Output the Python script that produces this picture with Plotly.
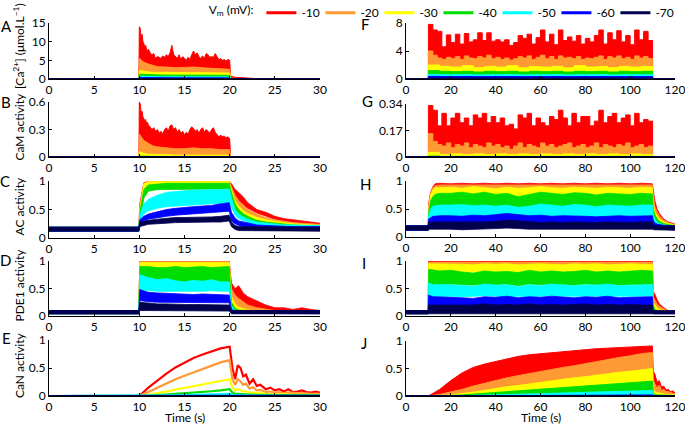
import plotly.graph_objects as go

FONT = 'Lato'
VOLTS = ['-10', '-20', '-30', '-40', '-50', '-60', '-70']
COLORS = ['#FF0000', '#FF9933', '#FFFF00', '#00DD00', '#00FFFF', '#0000FF', '#00004D']

# ---------------- Panel A / B (0-30 s, filled traces) ----------------
A_T = [0, 9.95, 10.0, 10.1, 10.2, 10.3, 10.4, 10.5, 10.6, 10.7, 10.8, 10.9,
       11.0, 11.2, 11.4, 11.6, 11.8, 12.0, 12.2, 12.4, 12.6, 12.8,
       13.0, 13.2, 13.4, 13.6, 13.8, 14.0, 14.2, 14.4, 14.6, 14.8,
       15.0, 15.2, 15.4, 15.6, 15.8, 16.0, 16.2, 16.4, 16.6, 16.8,
       17.0, 17.2, 17.4, 17.6, 17.8, 18.0, 18.2, 18.4, 18.6, 18.8,
       19.0, 19.2, 19.4, 19.6, 19.8, 20.0,
       20.1, 20.5, 21, 22, 23, 25, 30]
A_m10 = [0, 0, 14, 13.5, 11, 12, 10, 9.5, 8.5, 9, 8, 7.5,
         8, 7, 6.5, 6.8, 5.5, 6, 5.8, 5.5, 6.2, 5.8,
         6.5, 6, 7, 9, 6.5, 6, 5.5, 6.5, 5.2, 6,
         5.5, 5, 5.8, 5.2, 6.5, 7.5, 6.5, 7, 6, 5.5,
         6.2, 5.5, 6.8, 6.5, 5.8, 6, 5.8, 6.8, 6, 5.2,
         5.5, 5, 5.2, 4.8, 5.2, 5,
         0.8, 0.5, 0.4, 0.2, 0.1, 0.05, 0.05]
A_T2 = [0, 9.95, 10, 10.5, 11, 11.5, 12, 13, 14, 15, 16, 17, 18, 19, 20, 20.1, 20.5, 21, 30]
A_m20 = [0, 0, 5.5, 4.5, 4, 3.6, 3.3, 3.2, 3.0, 3.1, 3.2, 3.0, 2.9, 2.8, 2.6, 0.3, 0.2, 0.1, 0]
A_m30 = [0, 0, 2.3, 2.0, 1.9, 1.8, 1.8, 1.7, 1.7, 1.7, 1.7, 1.7, 1.6, 1.6, 1.6, 0.1, 0.05, 0, 0]
A_m40 = [0, 0, 1.3, 1.2, 1.1, 1.1, 1.1, 1.05, 1.05, 1.05, 1.0, 1.0, 1.0, 1.0, 1.0, 0.05, 0, 0, 0]
A_m50 = [0, 0, 0.7, 0.65, 0.62, 0.6, 0.6, 0.58, 0.58, 0.57, 0.57, 0.56, 0.56, 0.55, 0.55, 0.02, 0, 0, 0]
A_m60 = [0, 0, 0.38, 0.35, 0.34, 0.33, 0.33, 0.32, 0.32, 0.32, 0.31, 0.31, 0.31, 0.3, 0.3, 0.01, 0, 0, 0]
A_m70 = [0, 0, 0.1, 0.09, 0.09, 0.08, 0.08, 0.08, 0.08, 0.08, 0.08, 0.08, 0.08, 0.08, 0.08, 0, 0, 0, 0]

B_m10 = [0, 0, 0.6, 0.58, 0.48, 0.5, 0.44, 0.42, 0.38, 0.41, 0.36, 0.38,
         0.35, 0.33, 0.3, 0.32, 0.28, 0.3, 0.26, 0.28, 0.25, 0.3,
         0.32, 0.28, 0.34, 0.35, 0.3, 0.32, 0.27, 0.3, 0.26, 0.28,
         0.24, 0.27, 0.25, 0.3, 0.33, 0.31, 0.28, 0.3, 0.26, 0.3,
         0.32, 0.27, 0.3, 0.28, 0.26, 0.3, 0.32, 0.27, 0.25, 0.22,
         0.24, 0.22, 0.23, 0.21, 0.22, 0.2,
         0, 0, 0, 0, 0, 0, 0]
B_m20 = [0, 0, 0.25, 0.18, 0.15, 0.12, 0.11, 0.1, 0.09, 0.09, 0.1, 0.09, 0.09, 0.08, 0.08, 0, 0, 0, 0]
B_m30 = [0, 0, 0.06, 0.04, 0.03, 0.03, 0.025, 0.025, 0.02, 0.02, 0.02, 0.02, 0.02, 0.02, 0.02, 0, 0, 0, 0]
B_m40 = [0, 0, 0.01, 0.008, 0.007, 0.006, 0.006, 0.006, 0.006, 0.006, 0.006, 0.006, 0.006, 0.006, 0.006, 0, 0, 0, 0]
B_m50 = [0, 0, 0.003, 0.002, 0.002, 0.002, 0.002, 0.002, 0.002, 0.002, 0.002, 0.002, 0.002, 0.002, 0.002, 0, 0, 0, 0]
B_m60 = [0, 0, 0.001, 0.001, 0.001, 0.001, 0.001, 0.001, 0.001, 0.001, 0.001, 0.001, 0.001, 0.001, 0.001, 0, 0, 0, 0]
B_m70 = [0, 0, 0, 0, 0, 0, 0, 0, 0, 0, 0, 0, 0, 0, 0, 0, 0, 0, 0]

# ---------------- Panel C / D (0-30 s, noisy bands: low / high envelopes) ----------------
C_T = [0, 9.95,
       10.05, 10.5, 11, 12, 13, 14, 15, 16, 17, 18, 19, 19.95,
       20.2, 20.6, 21, 21.5, 22, 23, 24, 25, 26, 27, 28, 29, 30]
C_m10_hi = [0.19, 0.19, 0.6, 0.97, 0.99, 0.99, 0.99, 0.99, 0.99, 0.99, 0.99, 0.99, 0.99, 0.99,
            0.95, 0.85, 0.8, 0.72, 0.62, 0.5, 0.45, 0.38, 0.34, 0.32, 0.3, 0.28, 0.26]
C_m10_lo = [0.12, 0.12, 0.3, 0.85, 0.93, 0.93, 0.94, 0.93, 0.93, 0.94, 0.93, 0.93, 0.94, 0.93,
            0.85, 0.7, 0.65, 0.58, 0.52, 0.44, 0.38, 0.33, 0.3, 0.27, 0.25, 0.24, 0.22]
C_m20_hi = [0.19, 0.19, 0.55, 0.96, 0.98, 0.98, 0.98, 0.98, 0.98, 0.98, 0.98, 0.98, 0.98, 0.98,
            0.9, 0.75, 0.66, 0.58, 0.5, 0.42, 0.36, 0.32, 0.29, 0.27, 0.26, 0.25, 0.24]
C_m20_lo = [0.12, 0.12, 0.3, 0.82, 0.92, 0.92, 0.92, 0.92, 0.92, 0.92, 0.92, 0.92, 0.92, 0.92,
            0.8, 0.62, 0.55, 0.48, 0.43, 0.37, 0.32, 0.28, 0.26, 0.24, 0.23, 0.22, 0.21]
C_m30_hi = [0.19, 0.19, 0.5, 0.95, 0.99, 0.99, 0.99, 0.99, 0.99, 0.99, 0.99, 0.99, 0.99, 0.99,
            0.85, 0.65, 0.56, 0.48, 0.43, 0.36, 0.32, 0.29, 0.27, 0.25, 0.24, 0.23, 0.22]
C_m30_lo = [0.12, 0.12, 0.3, 0.8, 0.92, 0.92, 0.92, 0.92, 0.92, 0.92, 0.92, 0.92, 0.92, 0.92,
            0.75, 0.55, 0.47, 0.41, 0.37, 0.31, 0.28, 0.25, 0.23, 0.22, 0.21, 0.2, 0.19]
C_m40_hi = [0.19, 0.19, 0.45, 0.85, 0.93, 0.95, 0.96, 0.96, 0.96, 0.96, 0.96, 0.96, 0.96, 0.96,
            0.8, 0.6, 0.5, 0.43, 0.38, 0.31, 0.28, 0.26, 0.24, 0.23, 0.22, 0.22, 0.21]
C_m40_lo = [0.12, 0.12, 0.3, 0.7, 0.82, 0.85, 0.86, 0.86, 0.86, 0.86, 0.86, 0.86, 0.86, 0.86,
            0.65, 0.5, 0.42, 0.36, 0.32, 0.27, 0.24, 0.22, 0.21, 0.2, 0.19, 0.19, 0.18]
C_m50_hi = [0.19, 0.19, 0.4, 0.6, 0.68, 0.75, 0.8, 0.82, 0.83, 0.84, 0.84, 0.85, 0.85, 0.86,
            0.7, 0.5, 0.42, 0.37, 0.33, 0.28, 0.26, 0.24, 0.23, 0.23, 0.22, 0.22, 0.22]
C_m50_lo = [0.12, 0.12, 0.3, 0.42, 0.48, 0.52, 0.55, 0.57, 0.58, 0.59, 0.6, 0.6, 0.61, 0.62,
            0.55, 0.4, 0.34, 0.3, 0.27, 0.23, 0.21, 0.2, 0.19, 0.18, 0.18, 0.17, 0.17]
C_m60_hi = [0.19, 0.19, 0.32, 0.38, 0.42, 0.46, 0.5, 0.52, 0.54, 0.55, 0.56, 0.57, 0.6, 0.62,
            0.45, 0.35, 0.3, 0.28, 0.26, 0.23, 0.22, 0.21, 0.21, 0.2, 0.2, 0.2, 0.2]
C_m60_lo = [0.12, 0.12, 0.25, 0.3, 0.33, 0.36, 0.38, 0.4, 0.42, 0.43, 0.44, 0.45, 0.46, 0.47,
            0.3, 0.25, 0.22, 0.2, 0.19, 0.17, 0.16, 0.16, 0.15, 0.15, 0.15, 0.14, 0.14]
C_m70_hi = [0.19, 0.19, 0.28, 0.3, 0.31, 0.33, 0.35, 0.36, 0.36, 0.36, 0.37, 0.37, 0.38, 0.4,
            0.28, 0.22, 0.2, 0.2, 0.2, 0.19, 0.19, 0.19, 0.19, 0.19, 0.19, 0.19, 0.19]
C_m70_lo = [0.12, 0.12, 0.2, 0.22, 0.24, 0.25, 0.26, 0.27, 0.27, 0.27, 0.28, 0.28, 0.28, 0.3,
            0.2, 0.15, 0.13, 0.13, 0.12, 0.12, 0.12, 0.12, 0.12, 0.12, 0.12, 0.12, 0.12]

D_m10_hi = [0.1, 0.1, 1, 1, 1, 1, 1, 1, 1, 1, 1, 1, 1, 1,
            0.6, 0.5, 0.55, 0.42, 0.35, 0.28, 0.2, 0.15, 0.15, 0.12, 0.15, 0.12, 0.1]
D_m10_lo = [0.04, 0.04, 0.9, 0.95, 0.95, 0.95, 0.95, 0.95, 0.95, 0.95, 0.95, 0.95, 0.95, 0.95,
            0.3, 0.2, 0.15, 0.1, 0.08, 0.06, 0.05, 0.05, 0.05, 0.05, 0.05, 0.05, 0.05]
D_m20_hi = [0.1, 0.1, 0.99, 0.99, 0.99, 0.99, 0.99, 0.99, 0.99, 0.99, 0.99, 0.99, 0.99, 0.99,
            0.5, 0.38, 0.32, 0.26, 0.2, 0.15, 0.12, 0.1, 0.1, 0.09, 0.09, 0.09, 0.09]
D_m20_lo = [0.04, 0.04, 0.88, 0.92, 0.92, 0.92, 0.92, 0.92, 0.92, 0.92, 0.92, 0.92, 0.92, 0.92,
            0.2, 0.12, 0.1, 0.08, 0.06, 0.05, 0.05, 0.05, 0.05, 0.05, 0.05, 0.05, 0.05]
D_m30_hi = [0.1, 0.1, 0.97, 0.97, 0.97, 0.97, 0.97, 0.97, 0.97, 0.97, 0.97, 0.97, 0.97, 0.97,
            0.35, 0.22, 0.16, 0.13, 0.11, 0.09, 0.09, 0.09, 0.09, 0.09, 0.09, 0.09, 0.09]
D_m30_lo = [0.04, 0.04, 0.8, 0.83, 0.83, 0.83, 0.83, 0.83, 0.83, 0.83, 0.83, 0.83, 0.83, 0.83,
            0.15, 0.08, 0.06, 0.05, 0.05, 0.05, 0.05, 0.05, 0.05, 0.05, 0.05, 0.05, 0.05]
D_m40_hi = [0.1, 0.1, 0.9, 0.9, 0.9, 0.88, 0.88, 0.9, 0.88, 0.89, 0.9, 0.88, 0.89, 0.9,
            0.25, 0.14, 0.11, 0.1, 0.1, 0.1, 0.1, 0.1, 0.1, 0.1, 0.1, 0.1, 0.1]
D_m40_lo = [0.04, 0.04, 0.6, 0.62, 0.6, 0.6, 0.58, 0.6, 0.6, 0.6, 0.62, 0.6, 0.6, 0.6,
            0.1, 0.06, 0.05, 0.05, 0.05, 0.05, 0.05, 0.05, 0.05, 0.05, 0.05, 0.05, 0.05]
D_m50_hi = [0.1, 0.1, 0.75, 0.72, 0.7, 0.66, 0.68, 0.64, 0.62, 0.65, 0.63, 0.66, 0.62, 0.62,
            0.18, 0.1, 0.1, 0.1, 0.1, 0.1, 0.1, 0.1, 0.1, 0.1, 0.1, 0.1, 0.1]
D_m50_lo = [0.04, 0.04, 0.48, 0.47, 0.46, 0.45, 0.45, 0.44, 0.44, 0.45, 0.45, 0.46, 0.45, 0.45,
            0.08, 0.05, 0.05, 0.05, 0.05, 0.05, 0.05, 0.05, 0.05, 0.05, 0.05, 0.05, 0.05]
D_m60_hi = [0.1, 0.1, 0.48, 0.45, 0.43, 0.42, 0.41, 0.4, 0.4, 0.39, 0.4, 0.39, 0.38, 0.38,
            0.12, 0.1, 0.1, 0.1, 0.1, 0.1, 0.1, 0.1, 0.1, 0.1, 0.1, 0.1, 0.1]
D_m60_lo = [0.04, 0.04, 0.28, 0.27, 0.26, 0.25, 0.25, 0.25, 0.24, 0.24, 0.24, 0.24, 0.24, 0.24,
            0.05, 0.04, 0.04, 0.04, 0.04, 0.04, 0.04, 0.04, 0.04, 0.04, 0.04, 0.04, 0.04]
D_m70_hi = [0.1, 0.1, 0.25, 0.24, 0.23, 0.22, 0.22, 0.21, 0.21, 0.21, 0.21, 0.21, 0.2, 0.2,
            0.1, 0.1, 0.1, 0.1, 0.1, 0.1, 0.1, 0.1, 0.1, 0.1, 0.1, 0.1, 0.1]
D_m70_lo = [0.04, 0.04, 0.1, 0.1, 0.1, 0.09, 0.09, 0.09, 0.09, 0.09, 0.09, 0.09, 0.09, 0.09,
            0.04, 0.04, 0.04, 0.04, 0.04, 0.04, 0.04, 0.04, 0.04, 0.04, 0.04, 0.04, 0.04]

# ---------------- Panel E (0-30 s, lines) ----------------
E_T = [0, 10, 11, 12, 13, 14, 15, 16, 17, 18, 19, 20,
       20.3, 20.6, 20.9, 21.2, 21.5, 21.8, 22.2, 22.6, 23, 23.4,
       24, 24.5, 25, 25.5, 26, 26.5, 27, 27.5, 28, 28.5, 29, 29.5, 30]
E_m10 = [0, 0, 0.15, 0.28, 0.4, 0.51, 0.6, 0.68, 0.74, 0.8, 0.85, 0.88,
         0.5, 0.3, 0.55, 0.5, 0.35, 0.38, 0.22, 0.3, 0.18, 0.2,
         0.12, 0.15, 0.1, 0.12, 0.08, 0.12, 0.07, 0.08, 0.1, 0.07, 0.06, 0.08, 0.06]
E_m20 = [0, 0, 0.07, 0.15, 0.23, 0.3, 0.36, 0.42, 0.48, 0.54, 0.6, 0.64,
         0.3, 0.2, 0.3, 0.26, 0.2, 0.22, 0.13, 0.16, 0.1, 0.11,
         0.07, 0.08, 0.06, 0.07, 0.05, 0.06, 0.05, 0.05, 0.05, 0.04, 0.04, 0.04, 0.04]
E_m30 = [0, 0, 0.02, 0.05, 0.08, 0.11, 0.14, 0.17, 0.2, 0.23, 0.27, 0.3,
         0.15, 0.1, 0.12, 0.1, 0.08, 0.08, 0.06, 0.06, 0.05, 0.05,
         0.04, 0.04, 0.03, 0.03, 0.03, 0.03, 0.02, 0.02, 0.02, 0.02, 0.02, 0.02, 0.02]
E_m40 = [0, 0, 0.005, 0.015, 0.025, 0.035, 0.045, 0.055, 0.07, 0.085, 0.1, 0.12,
         0.06, 0.04, 0.04, 0.035, 0.03, 0.03, 0.025, 0.02, 0.02, 0.02,
         0.015, 0.015, 0.01, 0.01, 0.01, 0.01, 0.01, 0.01, 0.01, 0.01, 0.01, 0.01, 0.01]
E_m50 = [0, 0, 0.002, 0.005, 0.008, 0.012, 0.015, 0.02, 0.025, 0.03, 0.035, 0.04,
         0.02, 0.015, 0.015, 0.012, 0.01, 0.01, 0.008, 0.008, 0.006, 0.006,
         0.005, 0.005, 0.004, 0.004, 0.004, 0.003, 0.003, 0.003, 0.003, 0.003, 0.003, 0.003, 0.003]
E_m60 = [0, 0, 0, 0.001, 0.002, 0.003, 0.004, 0.005, 0.006, 0.007, 0.008, 0.01,
         0.005, 0.004, 0.004, 0.003, 0.003, 0.002, 0.002, 0.002, 0.002, 0.001,
         0.001, 0.001, 0.001, 0.001, 0.001, 0.001, 0.001, 0.001, 0.001, 0.001, 0.001, 0.001, 0.001]
E_m70 = [0, 0, 0, 0, 0, 0, 0, 0, 0, 0, 0, 0,
         0, 0, 0, 0, 0, 0, 0, 0, 0, 0,
         0, 0, 0, 0, 0, 0, 0, 0, 0, 0, 0, 0, 0]

# ---------------- Panel F / G (0-120 s, filled step traces) ----------------
F_T = [0,
       10, 12, 14, 16, 18, 20, 22, 24, 26, 28, 30, 32, 34, 36, 38, 40, 42, 44, 46, 48,
       50, 52, 54, 56, 58, 60, 62, 64, 66, 68, 70, 72, 74, 76, 78, 80, 82, 84, 86, 88,
       90, 92, 94, 96, 98, 100, 102, 104, 106, 108,
       110, 120]
F_m10 = [0,
         7.8, 7.0, 6.8, 4.6, 6.3, 5.2, 6.4, 5.0, 6.5, 5.3,
         5.6, 6.6, 5.5, 6.6, 5.4, 5.6, 5.3, 5.6, 4.8, 5.2,
         6.2, 5.8, 6.4, 5.0, 5.9, 7.0, 5.3, 6.4, 4.9, 7.0,
         5.5, 6.0, 5.4, 6.2, 5.0, 5.8, 5.3, 6.2, 7.0, 5.0,
         6.6, 5.6, 6.9, 5.3, 6.2, 4.9, 7.0, 5.6, 6.8, 5.5,
         0, 0]
F_m20 = [0,
         4.0, 3.4, 3.0, 2.8, 3.1, 2.9, 3.2, 2.8, 3.3, 3.0,
         2.9, 3.2, 3.0, 3.4, 2.9, 3.1, 2.8, 3.0, 2.7, 2.9,
         3.2, 3.0, 3.3, 2.8, 3.1, 3.4, 2.9, 3.2, 2.8, 3.3,
         3.0, 3.1, 2.9, 3.2, 2.8, 3.0, 2.9, 3.1, 3.3, 2.8,
         3.2, 3.0, 3.3, 2.9, 3.1, 2.8, 3.3, 3.0, 3.2, 2.9,
         0, 0]
F_T2 = [0, 10, 15, 20, 25, 30, 35, 40, 45, 50, 55, 60, 65, 70, 75, 80, 85, 90, 95, 100, 105, 110, 120]
F_m30 = [0, 2.0, 1.8, 1.7, 1.9, 1.6, 1.8, 1.7, 1.9, 1.6, 1.8, 1.7, 1.8, 1.6, 1.9, 1.7, 1.8, 1.6, 1.8, 1.7, 1.8, 0, 0]
F_m40 = [0, 1.2, 1.1, 1.05, 1.1, 1.0, 1.1, 1.05, 1.1, 1.0, 1.1, 1.05, 1.1, 1.0, 1.1, 1.05, 1.1, 1.0, 1.1, 1.05, 1.1, 0, 0]
F_m50 = [0, 0.65, 0.6, 0.6, 0.62, 0.58, 0.6, 0.6, 0.62, 0.58, 0.6, 0.6, 0.62, 0.58, 0.6, 0.6, 0.62, 0.58, 0.6, 0.6, 0.6, 0, 0]
F_m60 = [0, 0.38, 0.35, 0.35, 0.36, 0.34, 0.35, 0.35, 0.36, 0.34, 0.35, 0.35, 0.36, 0.34, 0.35, 0.35, 0.36, 0.34, 0.35, 0.35, 0.35, 0, 0]
F_m70 = [0, 0.08, 0.08, 0.08, 0.08, 0.08, 0.08, 0.08, 0.08, 0.08, 0.08, 0.08, 0.08, 0.08, 0.08, 0.08, 0.08, 0.08, 0.08, 0.08, 0.08, 0, 0]

G_m10 = [0,
         0.33, 0.3, 0.2, 0.28, 0.2, 0.25, 0.28, 0.22, 0.25, 0.2,
         0.27, 0.25, 0.28, 0.22, 0.26, 0.22, 0.25, 0.2, 0.21, 0.18,
         0.27, 0.25, 0.28, 0.2, 0.25, 0.22, 0.2, 0.26, 0.24, 0.3,
         0.25, 0.2, 0.28, 0.22, 0.26, 0.26, 0.2, 0.23, 0.3, 0.22,
         0.26, 0.28, 0.22, 0.25, 0.27, 0.2, 0.28, 0.22, 0.24, 0.23,
         0, 0]
G_m20 = [0,
         0.15, 0.1, 0.08, 0.07, 0.09, 0.06, 0.08, 0.07, 0.09, 0.06,
         0.08, 0.07, 0.06, 0.09, 0.07, 0.08, 0.06, 0.07, 0.05, 0.07,
         0.09, 0.06, 0.08, 0.07, 0.06, 0.09, 0.07, 0.08, 0.06, 0.07,
         0.08, 0.09, 0.06, 0.07, 0.08, 0.06, 0.07, 0.09, 0.06, 0.08,
         0.07, 0.06, 0.08, 0.07, 0.09, 0.06, 0.07, 0.08, 0.06, 0.07,
         0, 0]
G_m30 = [0, 0.03, 0.015, 0.02, 0.015, 0.02, 0.015, 0.02, 0.015, 0.02, 0.015, 0.02, 0.015, 0.02, 0.015, 0.02, 0.015, 0.02, 0.015, 0.02, 0.015, 0, 0]
G_m40 = [0, 0.006, 0.004, 0.004, 0.004, 0.004, 0.004, 0.004, 0.004, 0.004, 0.004, 0.004, 0.004, 0.004, 0.004, 0.004, 0.004, 0.004, 0.004, 0.004, 0.004, 0, 0]
G_m50 = [0, 0.002, 0.001, 0.001, 0.001, 0.001, 0.001, 0.001, 0.001, 0.001, 0.001, 0.001, 0.001, 0.001, 0.001, 0.001, 0.001, 0.001, 0.001, 0.001, 0.001, 0, 0]
G_m60 = [0, 0.001, 0.0005, 0.0005, 0.0005, 0.0005, 0.0005, 0.0005, 0.0005, 0.0005, 0.0005, 0.0005, 0.0005, 0.0005, 0.0005, 0.0005, 0.0005, 0.0005, 0.0005, 0.0005, 0.0005, 0, 0]
G_m70 = [0, 0, 0, 0, 0, 0, 0, 0, 0, 0, 0, 0, 0, 0, 0, 0, 0, 0, 0, 0, 0, 0, 0]

# ---------------- Panel H / I (0-120 s, noisy bands) ----------------
H_T = [0, 9.9,
       10.1, 11, 12, 13, 15,
       20, 25, 30, 35, 40, 45, 50, 55, 60, 65, 70, 75, 80, 85, 90, 95, 100, 105,
       109.9,
       110.3, 111, 112, 113, 115, 117, 120]
H_m10_hi = [0.2, 0.2, 0.6, 0.8, 0.9, 0.95, 0.96,
            0.95, 0.96, 0.95, 0.96, 0.95, 0.96, 0.95, 0.96, 0.95, 0.96, 0.95, 0.96, 0.95, 0.96, 0.95, 0.96, 0.95, 0.96,
            0.95, 0.85, 0.65, 0.5, 0.42, 0.32, 0.27, 0.23]
H_m10_lo = [0.12, 0.12, 0.3, 0.6, 0.75, 0.85, 0.88,
            0.88, 0.89, 0.88, 0.89, 0.88, 0.89, 0.88, 0.89, 0.88, 0.89, 0.88, 0.89, 0.88, 0.89, 0.88, 0.89, 0.88, 0.89,
            0.88, 0.6, 0.45, 0.38, 0.32, 0.25, 0.22, 0.18]
H_m20_hi = [0.2, 0.2, 0.55, 0.78, 0.88, 0.92, 0.93,
            0.93, 0.94, 0.93, 0.94, 0.93, 0.94, 0.93, 0.94, 0.93, 0.94, 0.93, 0.94, 0.93, 0.94, 0.93, 0.94, 0.93, 0.94,
            0.93, 0.75, 0.55, 0.45, 0.38, 0.3, 0.26, 0.22]
H_m20_lo = [0.12, 0.12, 0.3, 0.55, 0.7, 0.78, 0.8,
            0.8, 0.81, 0.8, 0.81, 0.8, 0.81, 0.8, 0.81, 0.8, 0.81, 0.8, 0.81, 0.8, 0.81, 0.8, 0.81, 0.8, 0.81,
            0.8, 0.5, 0.4, 0.33, 0.3, 0.23, 0.2, 0.17]
H_m30_hi = [0.2, 0.2, 0.5, 0.75, 0.85, 0.88, 0.88,
            0.89, 0.87, 0.9, 0.88, 0.86, 0.89, 0.87, 0.88, 0.9, 0.88, 0.87, 0.89, 0.88, 0.87, 0.89, 0.88, 0.87, 0.89,
            0.88, 0.6, 0.45, 0.38, 0.32, 0.27, 0.24, 0.21]
H_m30_lo = [0.12, 0.12, 0.3, 0.55, 0.65, 0.68, 0.7,
            0.7, 0.71, 0.69, 0.7, 0.7, 0.71, 0.69, 0.7, 0.71, 0.7, 0.69, 0.7, 0.71, 0.7, 0.69, 0.7, 0.7, 0.71,
            0.7, 0.4, 0.32, 0.28, 0.25, 0.2, 0.18, 0.16]
H_m40_hi = [0.2, 0.2, 0.45, 0.65, 0.72, 0.76, 0.78,
            0.78, 0.8, 0.77, 0.8, 0.76, 0.78, 0.72, 0.76, 0.8, 0.78, 0.76, 0.79, 0.78, 0.75, 0.78, 0.77, 0.76, 0.78,
            0.77, 0.5, 0.4, 0.33, 0.28, 0.24, 0.22, 0.2]
H_m40_lo = [0.12, 0.12, 0.3, 0.45, 0.5, 0.52, 0.53,
            0.55, 0.56, 0.54, 0.55, 0.52, 0.55, 0.5, 0.52, 0.57, 0.55, 0.53, 0.56, 0.55, 0.52, 0.55, 0.54, 0.53, 0.55,
            0.55, 0.35, 0.28, 0.24, 0.2, 0.18, 0.16, 0.15]
H_m50_hi = [0.2, 0.2, 0.38, 0.5, 0.55, 0.56, 0.57,
            0.57, 0.58, 0.56, 0.57, 0.55, 0.57, 0.53, 0.55, 0.59, 0.57, 0.55, 0.58, 0.57, 0.54, 0.57, 0.56, 0.55, 0.57,
            0.57, 0.4, 0.32, 0.27, 0.24, 0.22, 0.2, 0.2]
H_m50_lo = [0.12, 0.12, 0.28, 0.33, 0.35, 0.35, 0.36,
            0.36, 0.35, 0.37, 0.36, 0.38, 0.4, 0.38, 0.36, 0.37, 0.35, 0.36, 0.36, 0.35, 0.34, 0.35, 0.36, 0.35, 0.36,
            0.36, 0.27, 0.22, 0.2, 0.18, 0.16, 0.15, 0.14]
H_m60_hi = [0.2, 0.2, 0.32, 0.35, 0.37, 0.37, 0.38,
            0.38, 0.37, 0.39, 0.38, 0.4, 0.42, 0.4, 0.38, 0.39, 0.37, 0.38, 0.38, 0.37, 0.36, 0.37, 0.38, 0.37, 0.38,
            0.38, 0.3, 0.25, 0.23, 0.22, 0.21, 0.2, 0.2]
H_m60_lo = [0.12, 0.12, 0.22, 0.22, 0.22, 0.22, 0.22,
            0.22, 0.23, 0.22, 0.23, 0.24, 0.25, 0.24, 0.22, 0.23, 0.22, 0.22, 0.23, 0.22, 0.22, 0.23, 0.22, 0.22, 0.23,
            0.22, 0.18, 0.15, 0.14, 0.14, 0.13, 0.13, 0.13]
H_m70_hi = [0.2, 0.2, 0.27, 0.27, 0.27, 0.27, 0.27,
            0.26, 0.27, 0.26, 0.27, 0.28, 0.3, 0.29, 0.27, 0.26, 0.27, 0.26, 0.27, 0.26, 0.26, 0.27, 0.26, 0.26, 0.27,
            0.27, 0.22, 0.2, 0.2, 0.2, 0.2, 0.2, 0.2]
H_m70_lo = [0.12, 0.12, 0.14, 0.14, 0.14, 0.14, 0.14,
            0.14, 0.13, 0.14, 0.14, 0.15, 0.16, 0.15, 0.14, 0.14, 0.13, 0.14, 0.14, 0.13, 0.14, 0.14, 0.13, 0.14, 0.14,
            0.14, 0.13, 0.12, 0.12, 0.12, 0.12, 0.12, 0.12]

I_m10_hi = [0.1, 0.1, 1, 1, 1, 1, 1,
            1, 1, 1, 1, 1, 1, 1, 1, 1, 1, 1, 1, 1, 1, 1, 1, 1, 1,
            1, 0.45, 0.4, 0.3, 0.22, 0.15, 0.1, 0.08]
I_m10_lo = [0.04, 0.04, 0.95, 0.95, 0.95, 0.95, 0.95,
            0.95, 0.96, 0.95, 0.96, 0.95, 0.96, 0.95, 0.96, 0.95, 0.96, 0.95, 0.96, 0.95, 0.96, 0.95, 0.96, 0.95, 0.96,
            0.95, 0.15, 0.12, 0.1, 0.08, 0.06, 0.05, 0.05]
I_m20_hi = [0.1, 0.1, 0.98, 0.98, 0.98, 0.98, 0.98,
            0.98, 0.99, 0.98, 0.99, 0.98, 0.99, 0.98, 0.99, 0.98, 0.99, 0.98, 0.99, 0.98, 0.99, 0.98, 0.99, 0.98, 0.99,
            0.98, 0.35, 0.3, 0.22, 0.18, 0.13, 0.1, 0.08]
I_m20_lo = [0.04, 0.04, 0.9, 0.9, 0.9, 0.9, 0.9,
            0.9, 0.91, 0.9, 0.91, 0.9, 0.91, 0.9, 0.91, 0.9, 0.91, 0.9, 0.91, 0.9, 0.91, 0.9, 0.91, 0.9, 0.91,
            0.9, 0.12, 0.1, 0.08, 0.07, 0.05, 0.05, 0.05]
I_m30_hi = [0.1, 0.1, 0.95, 0.95, 0.94, 0.95, 0.94,
            0.95, 0.94, 0.93, 0.95, 0.94, 0.95, 0.93, 0.94, 0.95, 0.94, 0.93, 0.95, 0.94, 0.95, 0.93, 0.94, 0.95, 0.94,
            0.94, 0.25, 0.2, 0.15, 0.12, 0.1, 0.08, 0.07]
I_m30_lo = [0.04, 0.04, 0.8, 0.8, 0.8, 0.8, 0.8,
            0.8, 0.79, 0.8, 0.81, 0.8, 0.79, 0.8, 0.81, 0.8, 0.79, 0.8, 0.81, 0.8, 0.79, 0.8, 0.81, 0.8, 0.79,
            0.8, 0.08, 0.06, 0.05, 0.05, 0.05, 0.05, 0.05]
I_m40_hi = [0.1, 0.1, 0.85, 0.84, 0.83, 0.83, 0.82,
            0.83, 0.8, 0.78, 0.82, 0.8, 0.81, 0.79, 0.83, 0.8, 0.82, 0.8, 0.81, 0.83, 0.8, 0.82, 0.8, 0.81, 0.83,
            0.82, 0.2, 0.12, 0.1, 0.09, 0.08, 0.08, 0.07]
I_m40_lo = [0.04, 0.04, 0.58, 0.58, 0.57, 0.58, 0.57,
            0.58, 0.57, 0.56, 0.58, 0.57, 0.58, 0.55, 0.58, 0.57, 0.58, 0.57, 0.56, 0.58, 0.57, 0.58, 0.56, 0.57, 0.58,
            0.58, 0.06, 0.05, 0.05, 0.05, 0.05, 0.05, 0.05]
I_m50_hi = [0.1, 0.1, 0.6, 0.58, 0.57, 0.56, 0.57,
            0.57, 0.55, 0.54, 0.58, 0.56, 0.57, 0.53, 0.57, 0.55, 0.58, 0.56, 0.55, 0.57, 0.56, 0.58, 0.55, 0.56, 0.57,
            0.57, 0.12, 0.1, 0.09, 0.08, 0.08, 0.08, 0.07]
I_m50_lo = [0.04, 0.04, 0.36, 0.36, 0.35, 0.36, 0.35,
            0.36, 0.35, 0.36, 0.37, 0.36, 0.35, 0.36, 0.35, 0.36, 0.37, 0.36, 0.35, 0.36, 0.35, 0.36, 0.36, 0.35, 0.36,
            0.36, 0.05, 0.05, 0.05, 0.05, 0.05, 0.05, 0.05]
I_m60_hi = [0.1, 0.1, 0.38, 0.36, 0.35, 0.35, 0.35,
            0.34, 0.33, 0.32, 0.35, 0.34, 0.36, 0.33, 0.35, 0.34, 0.36, 0.34, 0.33, 0.35, 0.34, 0.36, 0.33, 0.34, 0.35,
            0.35, 0.1, 0.09, 0.09, 0.08, 0.08, 0.08, 0.07]
I_m60_lo = [0.04, 0.04, 0.2, 0.2, 0.2, 0.2, 0.2,
            0.2, 0.2, 0.19, 0.2, 0.2, 0.2, 0.19, 0.2, 0.2, 0.2, 0.19, 0.2, 0.2, 0.2, 0.19, 0.2, 0.2, 0.2,
            0.2, 0.04, 0.04, 0.04, 0.04, 0.04, 0.04, 0.04]
I_m70_hi = [0.1, 0.1, 0.2, 0.2, 0.2, 0.2, 0.21,
            0.2, 0.21, 0.2, 0.22, 0.2, 0.21, 0.2, 0.22, 0.2, 0.21, 0.2, 0.21, 0.22, 0.2, 0.21, 0.2, 0.21, 0.2,
            0.2, 0.1, 0.1, 0.1, 0.1, 0.1, 0.1, 0.1]
I_m70_lo = [0.04, 0.04, 0.05, 0.05, 0.05, 0.05, 0.05,
            0.05, 0.05, 0.05, 0.05, 0.05, 0.05, 0.05, 0.05, 0.05, 0.05, 0.05, 0.05, 0.05, 0.05, 0.05, 0.05, 0.05, 0.05,
            0.05, 0.04, 0.04, 0.04, 0.04, 0.04, 0.04, 0.04]

# ---------------- Panel J (0-120 s, filled) ----------------
J_T = [0, 10, 15, 20, 25, 30, 35, 40, 45, 50, 55, 60, 65, 70, 75, 80, 85, 90, 95, 100, 105,
       109.9, 110.3, 111, 112, 113, 114, 115, 116, 117, 118, 119, 120]
J_m10 = [0, 0, 0.12, 0.28, 0.42, 0.52, 0.58, 0.63, 0.68, 0.72, 0.75, 0.77, 0.79, 0.81, 0.83, 0.85, 0.86, 0.87, 0.88, 0.89, 0.9,
         0.91, 0.45, 0.4, 0.25, 0.28, 0.16, 0.18, 0.11, 0.12, 0.08, 0.09, 0.06]
J_m20 = [0, 0, 0.03, 0.07, 0.12, 0.18, 0.23, 0.29, 0.33, 0.37, 0.41, 0.44, 0.48, 0.52, 0.55, 0.59, 0.63, 0.66, 0.7, 0.73, 0.77,
         0.79, 0.3, 0.22, 0.15, 0.2, 0.1, 0.12, 0.08, 0.08, 0.06, 0.05, 0.04]
J_m30 = [0, 0, 0.005, 0.02, 0.04, 0.07, 0.1, 0.14, 0.17, 0.19, 0.22, 0.25, 0.28, 0.3, 0.33, 0.35, 0.38, 0.4, 0.43, 0.45, 0.48,
         0.5, 0.12, 0.08, 0.06, 0.05, 0.04, 0.04, 0.03, 0.03, 0.03, 0.02, 0.02]
J_m40 = [0, 0, 0.002, 0.01, 0.02, 0.035, 0.05, 0.07, 0.08, 0.1, 0.11, 0.13, 0.14, 0.16, 0.17, 0.19, 0.2, 0.21, 0.23, 0.24, 0.26,
         0.27, 0.05, 0.03, 0.02, 0.02, 0.015, 0.015, 0.01, 0.01, 0.01, 0.01, 0.01]
J_m50 = [0, 0, 0, 0.003, 0.006, 0.01, 0.015, 0.02, 0.025, 0.03, 0.035, 0.04, 0.045, 0.05, 0.055, 0.06, 0.07, 0.075, 0.08, 0.09, 0.095,
         0.1, 0.02, 0.01, 0.01, 0.005, 0.005, 0.005, 0.005, 0.003, 0.003, 0.003, 0.003]
J_m60 = [0, 0, 0, 0.001, 0.002, 0.003, 0.004, 0.005, 0.006, 0.007, 0.008, 0.009, 0.01, 0.011, 0.012, 0.013, 0.014, 0.015, 0.016, 0.017, 0.018,
         0.02, 0.005, 0.003, 0.002, 0.002, 0.001, 0.001, 0.001, 0.001, 0.001, 0.001, 0.001]
J_m70 = [0, 0, 0, 0, 0, 0, 0, 0, 0, 0, 0, 0, 0, 0, 0, 0, 0, 0, 0, 0, 0,
         0, 0, 0, 0, 0, 0, 0, 0, 0, 0, 0, 0]

# tick labels
LEFT_TICKS = [0, 5, 10, 15, 20, 25, 30]
RIGHT_TICKS = [0, 20, 40, 60, 80, 100, 120]

# ======================================================================
fig = go.Figure()


def ids(k):
    return ('x' if k == 1 else 'x%d' % k), ('y' if k == 1 else 'y%d' % k)


def check(t, *ys):
    for y in ys:
        assert len(y) == len(t), (len(t), len(y))


def add_area(k, t, y, color, shape='linear', width=1.0):
    check(t, y)
    xa, ya = ids(k)
    fig.add_trace(go.Scatter(x=t, y=y, mode='lines', line=dict(color=color, width=width, shape=shape),
                             fill='tozeroy', fillcolor=color, xaxis=xa, yaxis=ya,
                             showlegend=False, hoverinfo='skip'))


def add_band(k, t, lo, hi, color):
    check(t, lo, hi)
    xa, ya = ids(k)
    xs = list(t) + list(reversed(t))
    ys = list(hi) + list(reversed(lo))
    fig.add_trace(go.Scatter(x=xs, y=ys, mode='lines', line=dict(color=color, width=0.8),
                             fill='toself', fillcolor=color, xaxis=xa, yaxis=ya,
                             showlegend=False, hoverinfo='skip'))


def add_line(k, t, y, color, width=2.2):
    check(t, y)
    xa, ya = ids(k)
    fig.add_trace(go.Scatter(x=t, y=y, mode='lines', line=dict(color=color, width=width),
                             xaxis=xa, yaxis=ya, showlegend=False, hoverinfo='skip'))


# Panel A (1) and B (3)
add_area(1, A_T, A_m10, COLORS[0])
for y, c in zip([A_m20, A_m30, A_m40, A_m50, A_m60], COLORS[1:6]):
    add_area(1, A_T2, y, c)
add_area(1, A_T2, A_m70, COLORS[6], width=2)

add_area(3, A_T, B_m10, COLORS[0])
for y, c in zip([B_m20, B_m30, B_m40, B_m50, B_m60], COLORS[1:6]):
    add_area(3, A_T2, y, c)
add_area(3, A_T2, B_m70, COLORS[6], width=2)

# Panel C (5) and D (7)
for lo, hi, c in zip([C_m10_lo, C_m20_lo, C_m30_lo, C_m40_lo, C_m50_lo, C_m60_lo, C_m70_lo],
                     [C_m10_hi, C_m20_hi, C_m30_hi, C_m40_hi, C_m50_hi, C_m60_hi, C_m70_hi], COLORS):
    add_band(5, C_T, lo, hi, c)
for lo, hi, c in zip([D_m10_lo, D_m20_lo, D_m30_lo, D_m40_lo, D_m50_lo, D_m60_lo, D_m70_lo],
                     [D_m10_hi, D_m20_hi, D_m30_hi, D_m40_hi, D_m50_hi, D_m60_hi, D_m70_hi], COLORS):
    add_band(7, C_T, lo, hi, c)

# Panel E (9)
for y, c in zip([E_m10, E_m20, E_m30, E_m40, E_m50, E_m60, E_m70], COLORS):
    add_line(9, E_T, y, c)

# Panel F (2) and G (4)
add_area(2, F_T, F_m10, COLORS[0], shape='hv')
add_area(2, F_T, F_m20, COLORS[1], shape='hv')
for y, c in zip([F_m30, F_m40, F_m50, F_m60], COLORS[2:6]):
    add_area(2, F_T2, y, c, shape='hv')
add_area(2, F_T2, F_m70, COLORS[6], shape='hv', width=2)

add_area(4, F_T, G_m10, COLORS[0], shape='hv')
add_area(4, F_T, G_m20, COLORS[1], shape='hv')
for y, c in zip([G_m30, G_m40, G_m50, G_m60], COLORS[2:6]):
    add_area(4, F_T2, y, c, shape='hv')
add_area(4, F_T2, G_m70, COLORS[6], shape='hv', width=2)

# Panel H (6) and I (8)
for lo, hi, c in zip([H_m10_lo, H_m20_lo, H_m30_lo, H_m40_lo, H_m50_lo, H_m60_lo, H_m70_lo],
                     [H_m10_hi, H_m20_hi, H_m30_hi, H_m40_hi, H_m50_hi, H_m60_hi, H_m70_hi], COLORS):
    add_band(6, H_T, lo, hi, c)
for lo, hi, c in zip([I_m10_lo, I_m20_lo, I_m30_lo, I_m40_lo, I_m50_lo, I_m60_lo, I_m70_lo],
                     [I_m10_hi, I_m20_hi, I_m30_hi, I_m40_hi, I_m50_hi, I_m60_hi, I_m70_hi], COLORS):
    add_band(8, H_T, lo, hi, c)

# Panel J (10)
for y, c in zip([J_m10, J_m20, J_m30, J_m40, J_m50, J_m60], COLORS[:6]):
    add_area(10, J_T, y, c)
add_area(10, J_T, J_m70, COLORS[6], width=2)

# legend entries
for v, c in zip(VOLTS, COLORS):
    fig.add_trace(go.Scatter(x=[None], y=[None], mode='lines', line=dict(color=c, width=3),
                             name=v, showlegend=True, xaxis='x', yaxis='y'))

# ---------------- layout ----------------
W, HGT = 685, 425
LEFT = [49 / W, 320 / W]
RIGHT = [406 / W, 675 / W]


def ydom(top, bot):
    return [1 - bot / HGT, 1 - top / HGT]


panels = [
    # k, letter, letter position, xdomain, (top,bottom), xrange, xticks, yrange, yticks, yticktext, ytitle
    (1, 'A', (6, 26), LEFT, (23, 79), [0, 30], LEFT_TICKS, [0, 15], [0, 5, 10, 15], ['0', '5', '10', '15'],
     '[Ca<sup>2+</sup>] (μmol.L<sup>−1</sup>)'),
    (3, 'B', (6, 102), LEFT, (102, 157), [0, 30], LEFT_TICKS, [0, 0.6], [0, 0.3, 0.6], ['0', '0.3', '0.6'], 'CaM activity'),
    (5, 'C', (5, 181), LEFT, (181, 238), [0, 30], LEFT_TICKS, [0, 1], [0, 0.5, 1], ['0', '0.5', '1'], 'AC activity'),
    (7, 'D', (5, 260), LEFT, (261, 316), [0, 30], LEFT_TICKS, [0, 1], [0, 0.5, 1], ['0', '0.5', '1'], 'PDE1 activity'),
    (9, 'E', (6, 338), LEFT, (340, 396), [0, 30], LEFT_TICKS, [0, 1], [0, 0.5, 1], ['0', '0.5', '1'], 'CaN activity'),
    (2, 'F', (365, 24), RIGHT, (23, 79), [0, 120], RIGHT_TICKS, [0, 8], [0, 4, 8], ['0', '4', '8'], None),
    (4, 'G', (367, 101), RIGHT, (104, 157), [0, 120], RIGHT_TICKS, [0, 0.34], [0, 0.17, 0.34], ['0', '0.17', '0.34'], None),
    (6, 'H', (366, 184), RIGHT, (181, 237), [0, 120], RIGHT_TICKS, [0, 1], [0, 0.5, 1], ['0', '0.5', '1'], None),
    (8, 'I', (364, 263), RIGHT, (261, 316), [0, 120], RIGHT_TICKS, [0, 1], [0, 0.5, 1], ['0', '0.5', '1'], None),
    (10, 'J', (364, 343), RIGHT, (341, 396), [0, 120], RIGHT_TICKS, [0, 1], [0, 0.5, 1], ['0', '0.5', '1'], None),
]

common = dict(showline=True, linecolor='black', linewidth=1, ticks='inside', ticklen=3,
              tickcolor='black', tickwidth=1, showgrid=False, zeroline=False, fixedrange=True,
              automargin=False, ticklabeloverflow='allow',
              tickfont=dict(family=FONT, size=12, color='black'))

layout = dict(width=W, height=HGT, margin=dict(l=0, r=0, t=0, b=0, autoexpand=False),
              paper_bgcolor='white', plot_bgcolor='white',
              font=dict(family=FONT, size=12, color='black'),
              showlegend=True,
              legend=dict(orientation='h', xref='paper', yref='paper',
                          x=0.985, xanchor='right', y=1.004, yanchor='top',
                          entrywidth=14, entrywidthmode='pixels',
                          font=dict(family=FONT, size=12, color='black'),
                          title=dict(text='V<sub>m</sub> (mV):', side='left',
                                     font=dict(family=FONT, size=12, color='black')),
                          bgcolor='rgba(0,0,0,0)', itemclick=False, itemdoubleclick=False,
                          tracegroupgap=0))

annotations = []
for k, letter, (lx, ly), xd, (top, bot), xr, xt, yr, yt, ytt, ytitle in panels:
    xa, ya = ids(k)
    xkey = 'xaxis' if k == 1 else 'xaxis%d' % k
    ykey = 'yaxis' if k == 1 else 'yaxis%d' % k
    layout[xkey] = dict(common, domain=xd, anchor=ya, range=xr, tickvals=xt,
                        ticktext=[str(v) for v in xt])
    layout[ykey] = dict(common, domain=ydom(top, bot), anchor=xa, range=yr, tickvals=yt, ticktext=ytt)
    annotations.append(dict(text=letter, x=lx / W, y=1 - ly / HGT, xref='paper', yref='paper',
                            xanchor='center', yanchor='middle', showarrow=False,
                            font=dict(family=FONT, size=15, color='black')))
    if ytitle:
        yc = 46 if k == 1 else (top + bot) / 2 - 3
        annotations.append(dict(text=ytitle, x=19 / W, y=1 - yc / HGT,
                                xref='paper', yref='paper', xanchor='center', yanchor='middle',
                                textangle=-90, showarrow=False,
                                font=dict(family=FONT, size=12, color='black')))

for cx in [(49 + 320) / 2, (406 + 675) / 2]:
    annotations.append(dict(text='Time (s)', x=cx / W, y=1 - 417 / HGT, xref='paper', yref='paper',
                            xanchor='center', yanchor='middle', showarrow=False,
                            font=dict(family=FONT, size=12, color='black')))

layout['annotations'] = annotations
fig.update_layout(**layout)
fig.write_html('out.html', config={'displayModeBar': False, 'staticPlot': True},
               post_script="document.body.style.margin='0px';")
